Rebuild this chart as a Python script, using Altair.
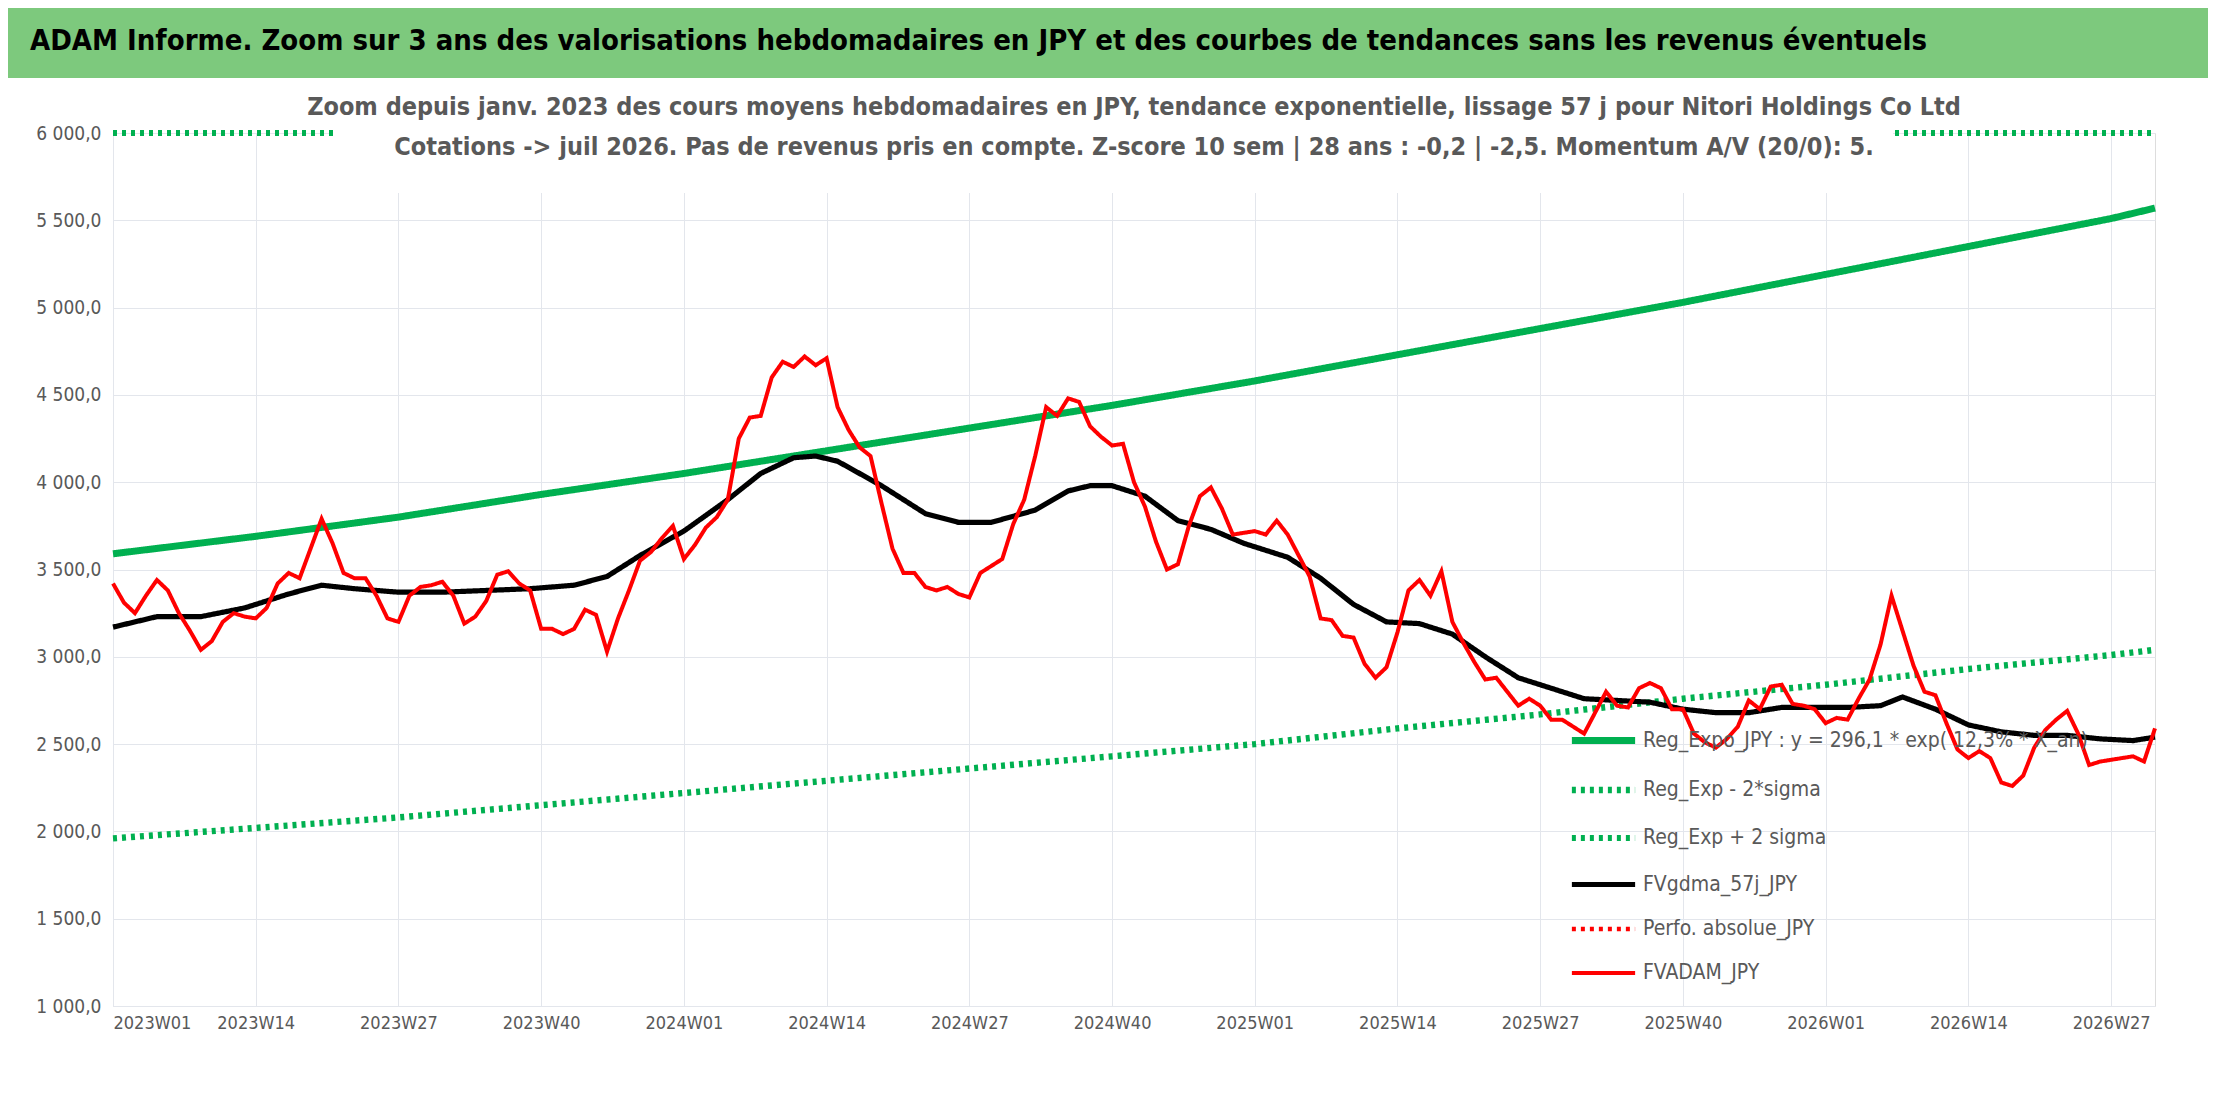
import altair as alt
import pandas as pd

week_labels = ["2023W01", "2023W14", "2023W27", "2023W40", "2024W01", "2024W14", "2024W27",
               "2024W40", "2025W01", "2025W14", "2025W27", "2025W40", "2026W01", "2026W14", "2026W27"]

# trend lines, read every 13 weeks (+ last week)
trend_weeks = [0, 13, 26, 39, 52, 65, 78, 91, 104, 117, 130, 143, 156, 169, 182, 186]
reg_expo = [3590, 3690, 3800, 3930, 4050, 4180, 4310, 4440, 4580, 4730, 4880, 5030, 5190, 5350, 5510, 5570]
reg_minus = [1960, 2020, 2080, 2150, 2220, 2290, 2360, 2430, 2500, 2590, 2670, 2760, 2840, 2930, 3010, 3040]
reg_plus = [6580, 6760, 6960, 7220, 7440, 7660, 7900, 8130, 8390, 8660, 8940, 9210, 9510, 9800, 10090, 10200]

fvadam = [3420, 3310, 3250, 3350, 3440, 3380, 3250, 3150, 3040, 3090, 3200, 3250, 3230, 3220, 3280,
          3420, 3480, 3450, 3620, 3790, 3650, 3480, 3450, 3450, 3350, 3220, 3200, 3350, 3400, 3410,
          3430, 3350, 3190, 3230, 3320, 3470, 3490, 3420, 3380, 3160, 3160, 3130, 3160, 3270, 3240,
          3030, 3220, 3380, 3550, 3600, 3680, 3750, 3560, 3640, 3740, 3800, 3900, 4250, 4370, 4380,
          4600, 4690, 4660, 4720, 4670, 4710, 4430, 4300, 4200, 4150, 3880, 3620, 3480, 3480, 3400,
          3380, 3400, 3360, 3340, 3480, 3520, 3560, 3760, 3900, 4150, 4430, 4380, 4480, 4460, 4320,
          4260, 4210, 4220, 4000, 3860, 3660, 3500, 3530, 3750, 3920, 3970, 3850, 3700, 3710, 3720,
          3700, 3780, 3700, 3580, 3460, 3220, 3210, 3120, 3110, 2960, 2880, 2940, 3140, 3380, 3440,
          3350, 3490, 3200, 3080, 2970, 2870, 2880, 2800, 2720, 2760, 2720, 2640, 2640, 2600, 2560,
          2680, 2800, 2720, 2710, 2820, 2850, 2820, 2700, 2700, 2560, 2510, 2480, 2530, 2600, 2750,
          2700, 2830, 2840, 2730, 2720, 2700, 2620, 2650, 2640, 2760, 2870, 3070, 3350, 3150, 2950,
          2800, 2780, 2620, 2470, 2420, 2460, 2420, 2280, 2260, 2320, 2480, 2580, 2640, 2690, 2560,
          2380, 2400, 2410, 2420, 2430, 2400, 2590]

mma_weeks = [0, 4, 8, 12, 16, 19, 22, 26, 30, 34, 38, 42, 45, 48, 52, 56, 59, 62, 64, 66, 70, 74, 77,
             80, 84, 87, 89, 91, 94, 97, 100, 103, 107, 110, 113, 116, 119, 122, 125, 128, 131, 134,
             137, 140, 143, 146, 149, 152, 155, 158, 161, 163, 166, 169, 172, 175, 178, 181, 184, 186]
mma_57 = [3170, 3230, 3230, 3280, 3360, 3410, 3390, 3370, 3370, 3380, 3390, 3410, 3460, 3580, 3720,
          3900, 4050, 4140, 4150, 4120, 3980, 3820, 3770, 3770, 3840, 3950, 3980, 3980, 3920, 3780,
          3730, 3650, 3570, 3450, 3300, 3200, 3190, 3130, 3000, 2880, 2820, 2760, 2750, 2740, 2700,
          2680, 2680, 2710, 2710, 2710, 2720, 2770, 2700, 2610, 2570, 2550, 2550, 2530, 2520, 2540]

names = ["Reg_Expo_JPY : y = 296,1 * exp( 12,3% * X_an)", "Reg_Exp - 2*sigma", "Reg_Exp + 2 sigma",
         "FVgdma_57j_JPY", "Perfo. absolue_JPY", "FVADAM_JPY"]

rows = []
for w, a, b, c in zip(trend_weeks, reg_expo, reg_minus, reg_plus):
    rows += [(w, a, names[0]), (w, b, names[1]), (w, c, names[2])]
rows += [(w, v, names[3]) for w, v in zip(mma_weeks, mma_57)]
rows += [(w, v, names[5]) for w, v in enumerate(fvadam)]
df = pd.DataFrame(rows, columns=["week", "value", "serie"])

FONT = "Liberation Sans Narrow, DejaVu Sans Condensed, Liberation Sans, sans-serif"
GREY = "#595959"
W, H = 2042, 873
LEFT = 105  # plot left edge from the page margin

label_arr = "[" + ",".join(f"'{l}'" for l in week_labels) + "]"

lines = alt.Chart(df).mark_line(clip=False).encode(
    x=alt.X("week:Q", scale=alt.Scale(domain=[0, 186], nice=False, zero=False),
            axis=alt.Axis(values=list(range(0, 183, 13)), labelExpr=f"{label_arr}[datum.value/13]",
                          title=None, grid=True, gridColor="#e3e6ec", domain=False, ticks=False,
                          labelFont=FONT, labelFontSize=18, labelColor=GREY, labelPadding=8)),
    y=alt.Y("value:Q", scale=alt.Scale(domain=[1000, 6000], clamp=True, nice=False),
            axis=alt.Axis(values=list(range(1000, 6001, 500)), title=None, grid=True, gridColor="#e3e6ec",
                          domain=False, ticks=False, labelFont=FONT, labelFontSize=19, labelColor=GREY,
                          labelPadding=12,
                          labelExpr="replace(replace(format(datum.value, ',.1f'), ',', ' '), '.', ',')")),
    color=alt.Color("serie:N", scale=alt.Scale(domain=names,
                    range=["#00B050", "#00B050", "#00B050", "#000000", "#FF0000", "#FF0000"]),
                    legend=alt.Legend(title=None, orient="none", legendX=1455, legendY=572,
                                      symbolType="stroke", symbolSize=4000, labelFont=FONT,
                                      labelFontSize=21, labelColor=GREY, rowPadding=0,
                                      labelLimit=600)),
    strokeDash=alt.StrokeDash("serie:N", scale=alt.Scale(domain=names,
                              range=[[1, 0], [4, 5], [4, 5], [1, 0], [4, 5], [1, 0]]), legend=None),
    strokeWidth=alt.StrokeWidth("serie:N", scale=alt.Scale(domain=names, range=[7, 4, 4, 4, 4, 5]),
                                legend=None),
    order=alt.Order("week:Q"),
)

one = pd.DataFrame({"a": [0]})

header_bg = alt.Chart(one).mark_rect(color="#7DC97D").encode(
    x=alt.value(-LEFT), x2=alt.value(2200 - LEFT), y=alt.value(-125), y2=alt.value(-55))
header_text = alt.Chart(one).mark_text(
    font=FONT, fontSize=29, fontWeight="bold", color="black", align="left", baseline="middle").encode(
    x=alt.value(-LEFT + 22), y=alt.value(-92),
    text=alt.value("ADAM Informe. Zoom sur 3 ans des valorisations hebdomadaires en JPY et des courbes de tendances sans les revenus éventuels"))

sub_bg = alt.Chart(one).mark_rect(color="white").encode(
    x=alt.value(220), x2=alt.value(1780), y=alt.value(-45), y2=alt.value(60))
sub_text = alt.Chart(one).mark_text(
    font=FONT, fontSize=25, fontWeight="bold", color=GREY, align="center", lineHeight=40, baseline="top"
).encode(x=alt.value(W / 2), y=alt.value(-38), text=alt.value([
    "Zoom depuis janv. 2023 des cours moyens hebdomadaires en JPY, tendance exponentielle, lissage 57 j pour Nitori Holdings Co Ltd",
    "Cotations -> juil 2026. Pas de revenus pris en compte. Z-score 10 sem | 28 ans : -0,2 | -2,5. Momentum A/V (20/0): 5."]))

chart = alt.layer(lines, sub_bg, sub_text, header_bg, header_text).properties(
    width=W, height=H
).configure_view(stroke=None).configure(padding=0, background="white")

chart.save("out.html", embed_options={"renderer": "svg", "actions": False})
